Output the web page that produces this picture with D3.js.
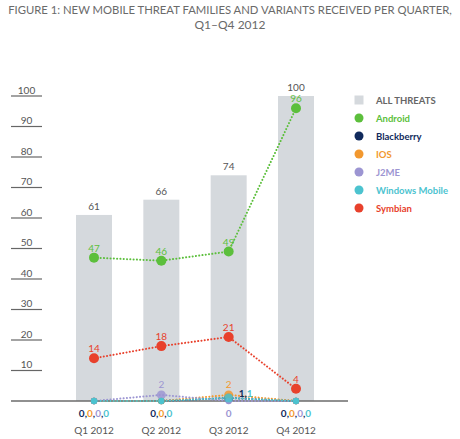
<!DOCTYPE html>
<html>
<head>
<meta charset="utf-8">
<script src="https://cdn.jsdelivr.net/npm/d3@7"></script>
<style>
  body { margin: 0; background: #fff; }
  text { font-family: Lato, "Open Sans", sans-serif; }
</style>
</head>
<body>
<div id="chart"></div>
<script>
// data
const quarters = ['Q1 2012', 'Q2 2012', 'Q3 2012', 'Q4 2012'];
const allThreats = [61, 66, 74, 100];
const android = [47, 46, 49, 96];
const blackberry = [0, 0, 1, 0];
const ios = [0, 0, 2, 0];
const j2me = [0, 2, 0, 0];
const windowsMobile = [0, 0, 1, 0];
const symbian = [14, 18, 21, 4];
const yTicks = [10, 20, 30, 40, 50, 60, 70, 80, 90, 100];

const series = [
  {name: 'Android', values: android, color: '#5cbf3c', major: true},
  {name: 'Blackberry', values: blackberry, color: '#102a5c', major: false},
  {name: 'IOS', values: ios, color: '#f2982f', major: false},
  {name: 'J2ME', values: j2me, color: '#9c95d2', major: false},
  {name: 'Windows Mobile', values: windowsMobile, color: '#4cc3cf', major: false},
  {name: 'Symbian', values: symbian, color: '#e8412c', major: true}
];

const width = 460, height = 439;
const svg = d3.select('#chart').append('svg')
  .attr('width', width)
  .attr('height', height);

// title: shrink the font until the first line fits the width
const title1 = svg.append('text')
  .attr('x', 230).attr('y', 14)
  .attr('text-anchor', 'middle')
  .style('font-size', '12px').attr('fill', '#6a6a6a')
  .text('FIGURE 1: NEW MOBILE THREAT FAMILIES AND VARIANTS RECEIVED PER QUARTER,');
let fs = 12;
while (title1.node().getComputedTextLength() > 444 && fs > 8) {
  fs -= 0.1;
  title1.style('font-size', fs + 'px');
}
svg.append('text')
  .attr('x', 230).attr('y', 29)
  .attr('text-anchor', 'middle')
  .style('font-size', '12px').attr('fill', '#6a6a6a')
  .text('Q1\u2013Q4 2012');

// scales
const x = d3.scalePoint().domain(quarters).range([94, 296]);
const y = d3.scaleLinear().domain([0, 100]).range([401, 96]);
const barW = 36;

// y ticks: short underlines with labels on top
const tick = svg.append('g');
yTicks.forEach(t => {
  tick.append('line')
    .attr('x1', 11).attr('x2', 42)
    .attr('y1', y(t)).attr('y2', y(t))
    .attr('stroke', '#666').attr('stroke-width', 1.2);
  tick.append('text')
    .attr('x', 26.5).attr('y', y(t) - 2.5)
    .attr('text-anchor', 'middle')
    .style('font-size', '10px').attr('fill', '#555')
    .text(t);
});

// bars
svg.selectAll('rect.bar')
  .data(quarters)
  .enter().append('rect')
  .attr('class', 'bar')
  .attr('x', d => x(d) - barW / 2)
  .attr('y', (d, i) => y(allThreats[i]))
  .attr('width', barW)
  .attr('height', (d, i) => y(0) - y(allThreats[i]))
  .attr('fill', '#d5d9dd');

svg.selectAll('text.barlabel')
  .data(quarters)
  .enter().append('text')
  .attr('class', 'barlabel')
  .attr('x', d => x(d))
  .attr('y', (d, i) => y(allThreats[i]) - 5)
  .attr('text-anchor', 'middle')
  .style('font-size', '10px').attr('fill', '#555')
  .text((d, i) => allThreats[i]);

// baseline
svg.append('line')
  .attr('x1', 11).attr('x2', 348)
  .attr('y1', y(0)).attr('y2', y(0))
  .attr('stroke', '#6b6b6b').attr('stroke-width', 1.5);

// dotted lines
const line = d3.line()
  .x((d, i) => x(quarters[i]))
  .y(d => y(d));

const minor = series.filter(s => !s.major);
const major = series.filter(s => s.major);

minor.concat(major).forEach(s => {
  svg.append('path')
    .attr('d', line(s.values))
    .attr('fill', 'none')
    .attr('stroke', s.color)
    .attr('stroke-width', 2)
    .attr('stroke-linecap', 'round')
    .attr('stroke-dasharray', '0.1,3.2');
});

// points
minor.forEach(s => {
  svg.selectAll(null)
    .data(s.values)
    .enter().append('circle')
    .attr('cx', (d, i) => x(quarters[i]))
    .attr('cy', d => y(d))
    .attr('r', d => d > 0 ? 4.5 : 3.2)
    .attr('fill', s.color)
    .attr('fill-opacity', d => d > 0 ? 0.85 : 1);
});
major.forEach(s => {
  svg.selectAll(null)
    .data(s.values)
    .enter().append('circle')
    .attr('cx', (d, i) => x(quarters[i]))
    .attr('cy', d => y(d))
    .attr('r', 5)
    .attr('fill', s.color);
  svg.selectAll(null)
    .data(s.values)
    .enter().append('text')
    .attr('x', (d, i) => x(quarters[i]))
    .attr('y', d => y(d) - 6)
    .attr('text-anchor', 'middle')
    .style('font-size', '10px').attr('fill', s.color)
    .text(d => d);
});

// labels for the small series: zeros below the axis, the rest above
quarters.forEach((q, i) => {
  const zeros = minor.filter(s => s.values[i] === 0);
  const others = minor.filter(s => s.values[i] > 0)
    .sort((a, b) => b.values[i] - a.values[i]);

  const zt = svg.append('text')
    .attr('x', x(q)).attr('y', 417)
    .attr('text-anchor', 'middle')
    .style('font-size', '10px').style('font-weight', 'bold');
  zeros.forEach((s, k) => {
    if (k > 0) zt.append('tspan').attr('fill', '#102a5c').text(',');
    zt.append('tspan').attr('fill', s.color).text('0');
  });

  if (others.length) {
    svg.append('text')
      .attr('x', x(q)).attr('y', y(others[0].values[i]) - 7)
      .attr('text-anchor', 'middle')
      .style('font-size', '10px').attr('fill', others[0].color)
      .text(others[0].values[i]);
  }
  if (others.length > 1) {
    const rt = svg.append('text')
      .attr('x', x(q) + 10).attr('y', y(0) - 4)
      .style('font-size', '10px').style('font-weight', 'bold');
    others.slice(1).forEach((s, k) => {
      if (k > 0) rt.append('tspan').attr('fill', '#102a5c').text(',');
      rt.append('tspan').attr('fill', s.color).text(s.values[i]);
    });
  }
});

// category labels
svg.selectAll('text.cat')
  .data(quarters)
  .enter().append('text')
  .attr('class', 'cat')
  .attr('x', d => x(d))
  .attr('y', 434)
  .attr('text-anchor', 'middle')
  .style('font-size', '10px').attr('fill', '#555')
  .text(d => d);

// legend
const legend = svg.append('g').attr('transform', 'translate(359,100)');
legend.append('rect')
  .attr('x', -4.5).attr('y', -4.5)
  .attr('width', 9).attr('height', 9)
  .attr('fill', '#d5d9dd');
legend.append('text')
  .attr('x', 17).attr('y', 3.5)
  .style('font-size', '9.5px').style('font-weight', 'bold')
  .attr('fill', '#666')
  .text('ALL THREATS');

series.forEach((s, k) => {
  const g = legend.append('g').attr('transform', `translate(0,${(k + 1) * 18})`);
  g.append('circle').attr('r', 4.5).attr('fill', s.color);
  g.append('text')
    .attr('x', 17).attr('y', 3.5)
    .style('font-size', '9.5px').style('font-weight', 'bold')
    .attr('fill', s.color)
    .text(s.name);
});
</script>
</body>
</html>
